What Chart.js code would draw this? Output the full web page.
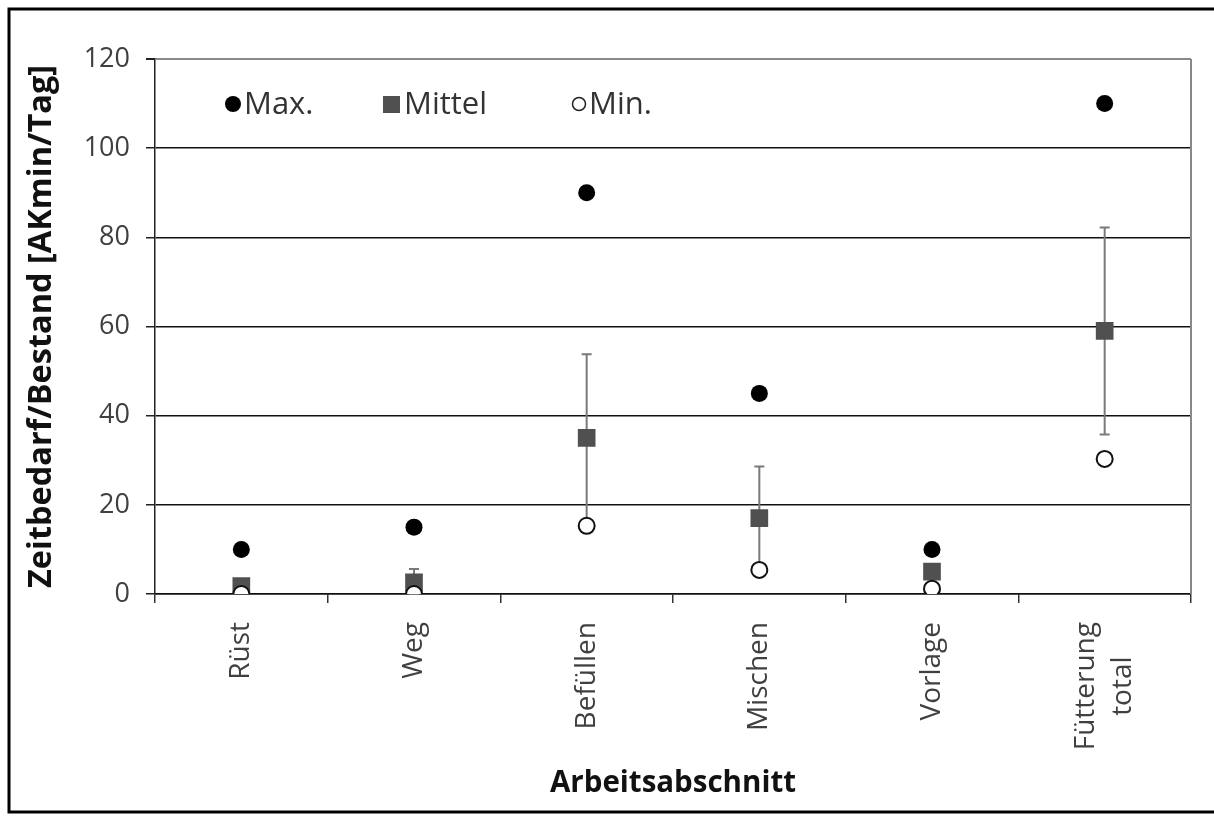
<!DOCTYPE html>
<html>
<head>
<meta charset="utf-8">
<script src="https://cdn.jsdelivr.net/npm/chart.js@4/dist/chart.umd.min.js"></script>
<style>
  html, body { margin: 0; padding: 0; background: #fff; }
  #c { display: block; }
</style>
</head>
<body>
<canvas id="c" width="1214" height="816"></canvas>
<script>
// ---- data ----
const categories = ['Rüst', 'Weg', 'Befüllen', 'Mischen', 'Vorlage', ['Fütterung', 'total']];
const maxValues  = [10, 15, 90, 45, 10, 110];
const meanValues = [1.8, 2.6, 35, 17, 5, 59];
const minValues  = [0, 0, 15.3, 5.4, 1.2, 30.3];
const sdValues   = [1, 3, 18.8, 11.6, 1, 23.2];
const yTickValues = [0, 20, 40, 60, 80, 100, 120];
const seriesNames = ['Max.', 'Mittel', 'Min.'];
const yTitle = 'Zeitbedarf/Bestand [AKmin/Tag]';
const xTitle = 'Arbeitsabschnitt';

const FONT = "'Open Sans', 'DejaVu Sans', sans-serif";

const framePlugin = {
  id: 'frame',
  beforeDraw(chart) {
    const ctx = chart.ctx;
    ctx.save();
    ctx.fillStyle = '#fff';
    ctx.fillRect(0, 0, chart.width, chart.height);
    ctx.strokeStyle = '#000';
    ctx.lineWidth = 3;
    ctx.strokeRect(9, 9, 1240, 803);
    ctx.restore();
  },
  afterDraw(chart) {
    const ctx = chart.ctx;
    const a = chart.chartArea;
    ctx.save();
    ctx.strokeStyle = '#888';
    ctx.lineWidth = 2;
    ctx.beginPath();
    ctx.moveTo(a.right, a.top);
    ctx.lineTo(a.right, a.bottom);
    ctx.stroke();
    ctx.restore();
  }
};

const errorBarPlugin = {
  id: 'errorBars',
  beforeDatasetsDraw(chart) {
    const ctx = chart.ctx;
    const xs = chart.scales.x, ys = chart.scales.y;
    ctx.save();
    ctx.strokeStyle = '#7a7a7a';
    ctx.lineWidth = 2;
    meanValues.forEach((m, i) => {
      const sd = sdValues[i];
      const x = xs.getPixelForValue(i);
      const yT = ys.getPixelForValue(m + sd);
      const yB = ys.getPixelForValue(Math.max(0, m - sd));
      ctx.beginPath();
      ctx.moveTo(x, yT); ctx.lineTo(x, yB);
      ctx.moveTo(x - 5, yT); ctx.lineTo(x + 5, yT);
      ctx.moveTo(x - 5, yB); ctx.lineTo(x + 5, yB);
      ctx.stroke();
    });
    ctx.restore();
  }
};

const labelPlugin = {
  id: 'catLabels',
  afterDraw(chart) {
    const ctx = chart.ctx;
    const xs = chart.scales.x;
    const top = chart.chartArea.bottom + 28;
    ctx.save();
    ctx.font = "28px " + FONT;
    ctx.fillStyle = '#404040';
    ctx.textBaseline = 'middle';
    ctx.textAlign = 'center';
    const lh = 37;
    categories.forEach((c, i) => {
      const lines = Array.isArray(c) ? c : [c];
      const w = Math.max(...lines.map(l => ctx.measureText(l).width));
      const x = xs.getPixelForValue(i);
      ctx.save();
      ctx.translate(x, top + w / 2);
      ctx.rotate(-Math.PI / 2);
      lines.forEach((l, j) => {
        ctx.fillText(l, 0, (j - (lines.length - 1) / 2) * lh);
      });
      ctx.restore();
    });
    // legend
    const ly = 104;
    ctx.font = "31px " + FONT;
    ctx.textAlign = 'left';
    ctx.beginPath(); ctx.arc(233, ly, 8, 0, Math.PI * 2); ctx.fillStyle = '#000'; ctx.fill();
    ctx.fillStyle = '#333'; ctx.fillText(seriesNames[0], 244, ly + 1);
    ctx.fillStyle = '#505050'; ctx.fillRect(383, ly - 8, 17, 17);
    ctx.fillStyle = '#333'; ctx.fillText(seriesNames[1], 404, ly + 1);
    ctx.beginPath(); ctx.arc(579, ly, 6.5, 0, Math.PI * 2);
    ctx.fillStyle = '#fff'; ctx.fill(); ctx.lineWidth = 1.5; ctx.strokeStyle = '#222'; ctx.stroke();
    ctx.fillStyle = '#333'; ctx.fillText(seriesNames[2], 589, ly + 1);
    ctx.restore();
  }
};

new Chart(document.getElementById('c'), {
  type: 'line',
  data: {
    labels: categories,
    datasets: [
      { label: seriesNames[2], data: minValues, showLine: false, order: 0,
        pointStyle: 'circle', pointRadius: 8, pointBackgroundColor: '#fff',
        pointBorderColor: '#111', pointBorderWidth: 2 },
      { label: seriesNames[1], data: meanValues, showLine: false, order: 1,
        pointStyle: 'rect', pointRadius: 12.5, pointBackgroundColor: '#505050',
        pointBorderColor: '#505050', pointBorderWidth: 0 },
      { label: seriesNames[0], data: maxValues, showLine: false, order: 2,
        pointStyle: 'circle', pointRadius: 8.5, pointBackgroundColor: '#000',
        pointBorderColor: '#000', pointBorderWidth: 0 }
    ]
  },
  options: {
    responsive: false,
    animation: false,
    events: [],
    layout: { padding: { top: 59, right: 23, bottom: 0, left: 0 } },
    plugins: { legend: { display: false }, tooltip: { enabled: false } },
    scales: {
      x: {
        type: 'category',
        offset: true,
        grid: { offset: true, drawOnChartArea: false, drawTicks: true, tickLength: 9, color: '#333', lineWidth: 1.5 },
        border: { display: true, color: '#111', width: 1.5 },
        ticks: { display: false },
        title: { display: true, text: xTitle, color: '#111',
                 font: { family: FONT, size: 29.5, weight: 'bold' }, padding: { top: 0, bottom: 15 } },
        afterFit(s) { s.height = 222; }
      },
      y: {
        min: 0, max: 120,
        afterBuildTicks(s) { s.ticks = yTickValues.map(v => ({ value: v })); },
        grid: {
          color: ctx => (ctx.tick && ctx.tick.value === 120) ? '#8a8a8a' : '#111',
          lineWidth: ctx => (ctx.tick && ctx.tick.value === 120) ? 2 : 1.5,
          tickColor: '#222', tickLength: 9
        },
        border: { display: true, color: '#222', width: 1.5 },
        ticks: { color: '#404040', padding: 16, font: { family: FONT, size: 27 } },
        title: { display: true, text: yTitle, color: '#111',
                 font: { family: FONT, size: 32.5, weight: 'bold' }, padding: { top: 22, bottom: 0 } },
        afterFit(s) { s.width = 155; }
      }
    }
  },
  plugins: [framePlugin, errorBarPlugin, labelPlugin]
});
</script>
</body>
</html>
